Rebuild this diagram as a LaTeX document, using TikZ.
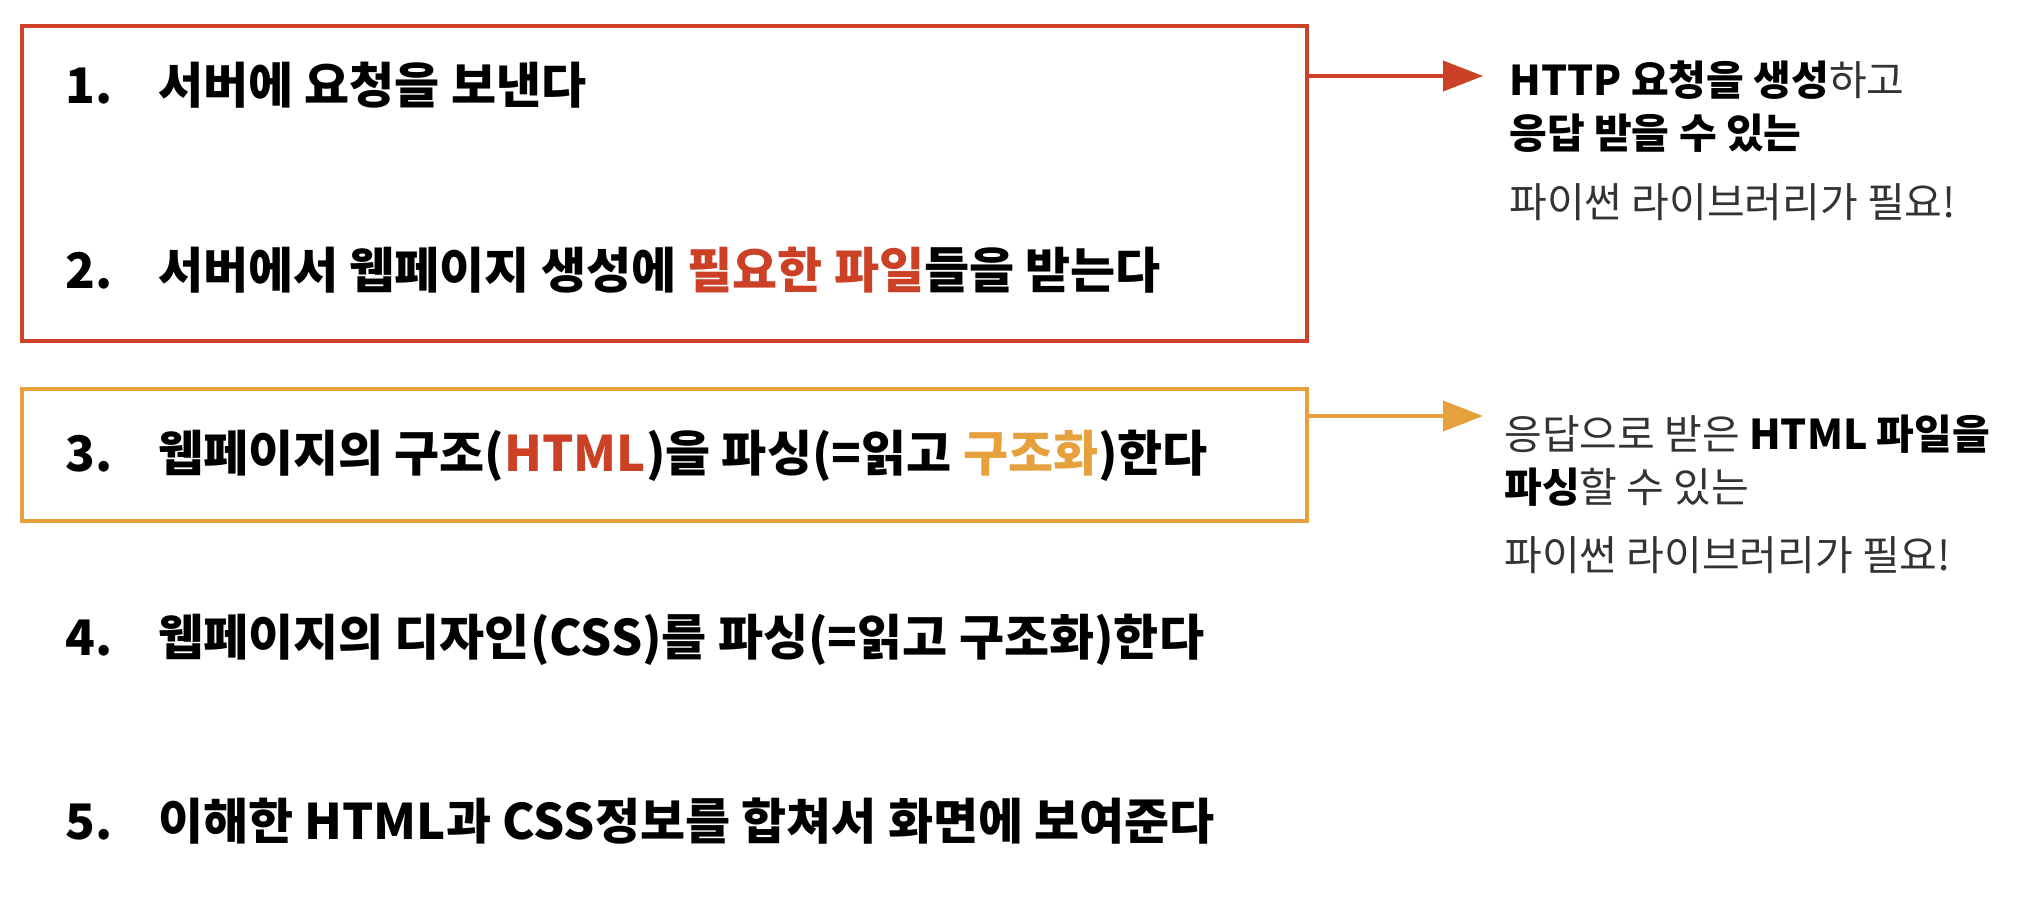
\documentclass[tikz,border=0pt]{standalone}
\usepackage{fontspec}
\setmainfont{Noto Sans CJK KR}
\usepackage{xcolor}
\usetikzlibrary{arrows.meta,positioning}
\definecolor{reqred}{HTML}{CC4125}
\definecolor{parseorange}{HTML}{E6A03C}
\definecolor{notegray}{HTML}{333333}

\begin{document}
\begin{tikzpicture}[
    x=0.5pt, y=-0.5pt,
    num/.style={anchor=base west, inner sep=0pt, text width=46pt, align=left, font=\fontsize{24.5}{29}\selectfont\bfseries},
    item/.style={anchor=base west, inner sep=0pt, font=\fontsize{24.5}{29}\selectfont\bfseries},
    note/.style={anchor=base west, inner sep=0pt, text=notegray, font=\fontsize{20.5}{24}\selectfont},
    frame/.style={draw=#1, line width=2pt, anchor=north west, inner sep=0pt, minimum width=642.5pt},
    arr/.style={-{Triangle[length=20pt,width=15pt]}, line width=2pt, draw=#1, fill=#1},
]
\useasboundingbox (0,0) rectangle (2022,912);
% Boxes
\node[frame=reqred, minimum height=157.5pt] (reqbox) at (20,24) {};
\node[frame=parseorange, minimum height=66pt] (parsebox) at (20,387) {};
% Steps
\node[num] (n1) at (65,103) {1.};
\node[item] (t1) at (n1.base east) {서버에 요청을 보낸다};
\node[num] (n2) at (65,288) {2.};
\node[item] (t2) at (n2.base east) {서버에서 웹페이지 생성에 {\color{reqred}필요한 파일}들을 받는다};
\node[num] (n3) at (65,471) {3.};
\node[item] (t3) at (n3.base east) {웹페이지의 구조({\color{reqred}HTML})을 파싱(=읽고 {\color{parseorange}구조화})한다};
\node[num] (n4) at (65,655) {4.};
\node[item] (t4) at (n4.base east) {웹페이지의 디자인(CSS)를 파싱(=읽고 구조화)한다};
\node[num] (n5) at (65,839) {5.};
\node[item] (t5) at (n5.base east) {이해한 HTML과 CSS정보를 합쳐서 화면에 보여준다};
% Notes
\node[note] (http1) at (1509,95) {\textbf{\color{black}HTTP 요청을 생성}하고};
\node[note] (http2) at ([yshift=-26.5pt]http1.base west) {\textbf{\color{black}응답 받을 수 있는}};
\node[note] (http3) at ([yshift=-34.5pt]http2.base west) {파이썬 라이브러리가 필요!};
\node[note] (html1) at (1504,449) {응답으로 받은 \textbf{\color{black}HTML 파일을}};
\node[note] (html2) at ([yshift=-26.5pt]html1.base west) {\textbf{\color{black}파싱}할 수 있는};
\node[note] (html3) at ([yshift=-34pt]html2.base west) {파이썬 라이브러리가 필요!};
% Arrows
\coordinate (reqtip) at (1483,76);
\coordinate (parsetip) at (1483,416);
\draw[arr=reqred] (reqbox.east |- reqtip) -- (reqtip);
\draw[arr=parseorange] (parsebox.east |- parsetip) -- (parsetip);
\end{tikzpicture}
\end{document}
